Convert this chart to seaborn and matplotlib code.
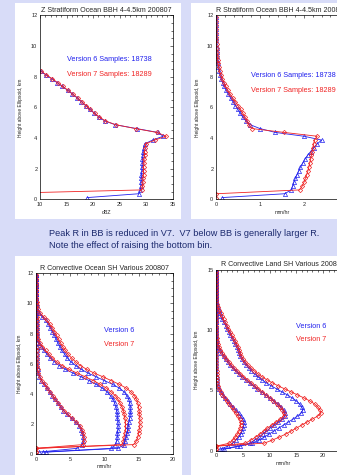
import numpy as np
import pandas as pd
import matplotlib
matplotlib.use("Agg")
import matplotlib.pyplot as plt
import seaborn as sns
from matplotlib.patches import Rectangle
from matplotlib.ticker import MultipleLocator, FuncFormatter

sns.set_style("white")
plt.rcParams["font.family"] = ["Liberation Sans", "DejaVu Sans"]

blue = "#2222ee"
red = "#f02424"
navy = "#1c2a6e"
lavender = "#d8dcf8"

# ---- Panel 1: Z stratiform ocean (dBZ) ----
h1 = [8.375, 8.125, 7.875, 7.625, 7.375, 7.125, 6.875, 6.625, 6.375, 6.125,
      5.875, 5.625, 5.375, 5.125, 4.875, 4.625, 4.375, 4.125, 3.875, 3.625,
      3.375, 3.125, 2.875, 2.625, 2.375, 2.125, 1.875, 1.625, 1.375, 1.125,
      0.875, 0.625, 0.375, 0.125]
z_v6 = [10.1, 11.1, 12.2, 13.2, 14.2, 15.2, 16.1, 17.0, 17.8, 18.6,
        19.4, 20.2, 21.1, 22.2, 24.2, 28.2, 32.2, 33.2, 31.2, 29.7,
        29.5, 29.4, 29.4, 29.3, 29.3, 29.2, 29.2, 29.1, 29.1, 29.0,
        29.0, 28.9, 28.6, 18.9]
z_v7 = [10.2, 11.2, 12.3, 13.3, 14.3, 15.3, 16.2, 17.1, 17.9, 18.7,
        19.5, 20.3, 21.2, 22.3, 24.3, 28.0, 32.0, 33.8, 31.6, 29.9,
        29.8, 29.7, 29.7, 29.6, 29.6, 29.5, 29.5, 29.5, 29.4, 29.4,
        29.3, 29.2, 0.0, 0.0]

# ---- Panel 2: R stratiform ocean (mm/hr) ----
h2 = [11.875, 11.625, 11.375, 11.125, 10.875, 10.625, 10.375, 10.125,
      9.875, 9.625, 9.375, 9.125, 8.875, 8.625, 8.375, 8.125,
      7.875, 7.625, 7.375, 7.125, 6.875, 6.625, 6.375, 6.125,
      5.875, 5.625, 5.375, 5.125, 4.875, 4.625, 4.375, 4.125,
      3.875, 3.625, 3.375, 3.125, 2.875, 2.625, 2.375, 2.125,
      1.875, 1.625, 1.375, 1.125, 0.875, 0.625, 0.375, 0.125]
rs_v6 = [0.0, 0.0, 0.0, 0.005, 0.005, 0.01, 0.01, 0.01,
         0.015, 0.02, 0.02, 0.03, 0.04, 0.05, 0.07, 0.09,
         0.12, 0.15, 0.19, 0.23, 0.28, 0.33, 0.39, 0.44,
         0.50, 0.55, 0.61, 0.68, 0.78, 1.00, 1.35, 2.00,
         2.40, 2.30, 2.22, 2.15, 2.08, 2.02, 1.97, 1.92,
         1.88, 1.84, 1.80, 1.77, 1.74, 1.71, 1.56, 0.14]
rs_v7 = [0.0, 0.0, 0.0, 0.005, 0.005, 0.01, 0.01, 0.015,
         0.02, 0.025, 0.03, 0.04, 0.05, 0.065, 0.08, 0.11,
         0.14, 0.18, 0.22, 0.27, 0.32, 0.38, 0.44, 0.50,
         0.56, 0.61, 0.66, 0.71, 0.74, 0.82, 1.55, 2.30,
         2.24, 2.22, 2.20, 2.18, 2.17, 2.15, 2.13, 2.11,
         2.09, 2.06, 2.03, 2.00, 1.96, 1.90, 0.0, 0.0]

# ---- Panel 3: R convective ocean, three SH classes ----
h3 = h2
ro_v6_a = [0.0, 0.0, 0.0, 0.0, 0.01, 0.01, 0.01, 0.02,
           0.02, 0.02, 0.03, 0.03, 0.04, 0.04, 0.05, 0.05,
           0.06, 0.07, 0.08, 0.09, 0.10, 0.11, 0.13, 0.15,
           0.18, 0.22, 0.30, 0.50, 0.80, 1.20, 1.60, 2.00,
           2.40, 2.80, 3.20, 3.60, 4.00, 4.60, 5.20, 5.80,
           6.30, 6.60, 6.80, 6.90, 6.90, 6.80, 6.00, 0.40]
ro_v7_a = [0.0, 0.0, 0.0, 0.01, 0.01, 0.01, 0.02, 0.02,
           0.02, 0.03, 0.03, 0.04, 0.04, 0.05, 0.05, 0.06,
           0.07, 0.08, 0.09, 0.10, 0.11, 0.13, 0.15, 0.17,
           0.20, 0.25, 0.35, 0.55, 0.85, 1.25, 1.65, 2.05,
           2.45, 2.85, 3.25, 3.65, 4.10, 4.70, 5.30, 5.90,
           6.40, 6.70, 6.90, 7.00, 7.00, 6.90, 0.0, 0.0]
ro_v6_b = [0.0, 0.0, 0.01, 0.01, 0.02, 0.02, 0.03, 0.03,
           0.04, 0.05, 0.06, 0.07, 0.08, 0.09, 0.10, 0.12,
           0.15, 0.20, 0.45, 0.80, 1.20, 1.60, 2.10, 2.70,
           3.40, 4.30, 5.40, 6.60, 7.80, 8.80, 9.70, 10.40,
           10.90, 11.30, 11.50, 11.70, 11.80, 11.90, 11.90, 12.00,
           12.00, 12.00, 11.90, 11.90, 11.80, 11.60, 11.00, 1.00]
ro_v7_b = [0.0, 0.0, 0.01, 0.01, 0.02, 0.02, 0.03, 0.04,
           0.05, 0.06, 0.07, 0.08, 0.09, 0.10, 0.12, 0.14,
           0.18, 0.25, 0.55, 0.95, 1.40, 1.90, 2.40, 3.00,
           3.80, 4.80, 6.00, 7.20, 8.40, 9.40, 10.30, 11.00,
           11.60, 12.00, 12.30, 12.60, 12.80, 12.90, 13.00, 13.10,
           13.10, 13.10, 13.00, 12.90, 12.80, 12.60, 0.0, 0.0]
ro_v6_c = [0.0, 0.01, 0.01, 0.02, 0.03, 0.04, 0.05, 0.07,
           0.10, 0.20, 0.45, 0.90, 1.40, 1.80, 2.10, 2.40,
           2.70, 2.95, 3.20, 3.50, 3.80, 4.20, 4.60, 5.10,
           5.80, 6.60, 7.60, 8.80, 10.00, 11.20, 12.20, 12.90,
           13.30, 13.60, 13.70, 13.80, 13.80, 13.80, 13.70, 13.60,
           13.50, 13.40, 13.30, 13.20, 13.00, 12.90, 12.00, 1.50]
ro_v7_c = [0.0, 0.01, 0.02, 0.03, 0.04, 0.05, 0.06, 0.09,
           0.13, 0.25, 0.55, 1.10, 1.60, 2.00, 2.40, 2.70,
           3.00, 3.30, 3.60, 3.90, 4.30, 4.70, 5.20, 5.80,
           6.50, 7.40, 8.50, 9.80, 11.00, 12.20, 13.20, 13.90,
           14.40, 14.70, 14.90, 15.00, 15.10, 15.10, 15.20, 15.20,
           15.20, 15.10, 15.00, 14.90, 14.70, 14.30, 0.0, 0.0]

# ---- Panel 4: R convective land, three SH classes ----
h4 = [14.875, 14.625, 14.375, 14.125, 13.875, 13.625, 13.375, 13.125,
      12.875, 12.625, 12.375, 12.125] + h2
rl_v6_a = [0.0, 0.0, 0.0, 0.0, 0.0, 0.0, 0.0, 0.01, 0.01, 0.01, 0.01, 0.02,
           0.02, 0.02, 0.02, 0.03, 0.03, 0.03, 0.04, 0.04, 0.04, 0.05, 0.05, 0.05,
           0.06, 0.06, 0.06, 0.07, 0.07, 0.07, 0.08, 0.08, 0.08, 0.09, 0.09, 0.10,
           0.10, 0.12, 0.30, 0.60, 0.90, 1.30, 1.70, 2.20, 2.70, 3.20, 3.70, 4.20,
           4.60, 5.00, 5.20, 5.20, 5.10, 4.90, 4.60, 4.20, 3.70, 3.10, 2.20, 0.80]
rl_v7_a = [0.0, 0.0, 0.0, 0.0, 0.0, 0.0, 0.01, 0.01, 0.01, 0.01, 0.02, 0.02,
           0.02, 0.03, 0.03, 0.03, 0.04, 0.04, 0.04, 0.05, 0.05, 0.05, 0.06, 0.06,
           0.06, 0.07, 0.07, 0.07, 0.08, 0.08, 0.08, 0.09, 0.09, 0.10, 0.10, 0.11,
           0.12, 0.14, 0.30, 0.60, 0.90, 1.20, 1.60, 2.00, 2.40, 2.90, 3.30, 3.70,
           4.10, 4.40, 4.60, 4.60, 4.50, 4.30, 4.00, 3.60, 3.10, 2.50, 0.0, 0.0]
rl_v6_b = [0.0, 0.0, 0.0, 0.0, 0.01, 0.01, 0.01, 0.02, 0.02, 0.02, 0.03, 0.03,
           0.03, 0.04, 0.04, 0.05, 0.05, 0.06, 0.06, 0.07, 0.07, 0.08, 0.09, 0.10,
           0.25, 0.45, 0.70, 1.00, 1.40, 1.80, 2.20, 2.60, 3.10, 3.70, 4.30, 4.90,
           5.60, 6.30, 7.00, 7.70, 8.50, 9.30, 10.10, 10.80, 11.50, 12.10, 12.60, 12.90,
           12.90, 12.40, 11.60, 10.80, 10.10, 9.40, 8.70, 8.00, 7.20, 6.30, 4.00, 1.20]
rl_v7_b = [0.0, 0.0, 0.0, 0.01, 0.01, 0.01, 0.02, 0.02, 0.02, 0.03, 0.03, 0.04,
           0.04, 0.05, 0.05, 0.06, 0.06, 0.07, 0.07, 0.08, 0.08, 0.09, 0.10, 0.15,
           0.30, 0.55, 0.80, 1.10, 1.50, 1.90, 2.40, 2.80, 3.30, 3.90, 4.50, 5.10,
           5.80, 6.50, 7.20, 7.90, 8.60, 9.30, 10.00, 10.70, 11.30, 11.90, 12.40, 12.70,
           12.60, 12.00, 11.20, 10.40, 9.60, 8.90, 8.20, 7.40, 6.50, 5.50, 0.0, 0.0]
rl_v6_c = [0.0, 0.0, 0.01, 0.01, 0.01, 0.02, 0.02, 0.03, 0.03, 0.04, 0.05, 0.10,
           0.30, 0.50, 0.70, 0.90, 1.20, 1.50, 1.80, 2.10, 2.40, 2.70, 3.00, 3.30,
           3.60, 3.90, 4.10, 4.30, 4.50, 4.80, 5.20, 5.60, 6.10, 6.60, 7.20, 7.80,
           8.60, 9.40, 10.30, 11.30, 12.30, 13.30, 14.20, 15.00, 15.60, 16.00, 16.20, 15.90,
           15.20, 14.40, 13.50, 12.60, 11.70, 10.80, 9.90, 9.00, 8.00, 6.80, 4.50, 1.50]
rl_v7_c = [0.0, 0.0, 0.01, 0.01, 0.02, 0.02, 0.03, 0.03, 0.04, 0.05, 0.07, 0.15,
           0.40, 0.60, 0.85, 1.10, 1.40, 1.70, 2.00, 2.30, 2.60, 2.90, 3.20, 3.50,
           3.80, 4.10, 4.30, 4.50, 4.70, 5.00, 5.40, 5.90, 6.50, 7.10, 7.80, 8.60,
           9.50, 10.50, 11.60, 12.80, 14.00, 15.20, 16.40, 17.50, 18.40, 19.00, 19.40, 19.60,
           19.00, 18.00, 17.00, 16.00, 15.00, 14.00, 13.00, 11.80, 10.50, 9.00, 0.0, 0.0]

titles = ["Z Stratiform Ocean BBH 4-4.5km 200807",
          "R Stratiform Ocean BBH 4-4.5km 200807",
          "R Convective Ocean SH Various 200807",
          "R Convective Land SH Various 200807"]
note_lines = ["Peak R in BB is reduced in V7.  V7 below BB is generally larger R.",
              "Note the effect of raising the bottom bin."]

W, H = 337, 475
fig = plt.figure(figsize=(W / 100, H / 100), dpi=100, facecolor=lavender)


def add_box(x0, y0, x1, y1):
    fig.patches.append(Rectangle((x0 / W, 1 - y1 / H), (x1 - x0) / W, (y1 - y0) / H,
                                 transform=fig.transFigure, facecolor="white",
                                 edgecolor="none", zorder=-1))


def add_panel(x0, y0, x1, y1):
    return fig.add_axes([x0 / W, 1 - y1 / H, (x1 - x0) / W, (y1 - y0) / H])


def draw_profile(ax, heights, values, version):
    df = pd.DataFrame({"height": heights, "value": values}).dropna()
    if version == 6:
        sns.lineplot(data=df, x="value", y="height", sort=False, estimator=None, ax=ax,
                     color=blue, linewidth=0.6, marker="^", markersize=3.0,
                     markerfacecolor="none", markeredgecolor=blue, markeredgewidth=0.5)
    else:
        sns.lineplot(data=df, x="value", y="height", sort=False, estimator=None, ax=ax,
                     color=red, linewidth=0.6, marker="D", markersize=2.2,
                     markerfacecolor="none", markeredgecolor=red, markeredgewidth=0.5)


def style_axes(ax, title, xlim, ylim, xmaj, xmin, ymaj, ymin, xlabel, ylab_x, xlab_max):
    ax.set_xlim(xlim)
    ax.set_ylim(ylim)
    ax.xaxis.set_major_locator(MultipleLocator(xmaj))
    ax.xaxis.set_minor_locator(MultipleLocator(xmin))
    ax.yaxis.set_major_locator(MultipleLocator(ymaj))
    ax.yaxis.set_minor_locator(MultipleLocator(ymin))
    # labels only for ticks that stay inside the page
    ax.xaxis.set_major_formatter(FuncFormatter(lambda v, p: "%g" % v if v <= xlab_max else ""))
    ax.tick_params(which="both", direction="in", top=True, right=True,
                   width=0.4, color="black", labelsize=4, pad=2)
    ax.tick_params(which="major", length=2.5)
    ax.tick_params(which="minor", length=1.2)
    for s in ax.spines.values():
        s.set_color("black")
        s.set_linewidth(0.5)
    ax.set_title(title, fontsize=5.1, pad=2.5)
    ax.set_xlabel(xlabel, fontsize=3.8)
    ax.set_ylabel("Height above Ellipsoid, km", fontsize=3.5)
    ax.xaxis.set_label_coords(0.5, -0.055)
    ax.yaxis.set_label_coords(ylab_x, 0.5)


add_box(15, 3, 181, 219)
add_box(191, 3, 337, 219)
add_box(15, 256, 182, 475)
add_box(191, 256, 337, 475)

# top left
ax1 = add_panel(40, 15.5, 172.7, 199.5)
draw_profile(ax1, h1, z_v6, 6)
draw_profile(ax1, h1, z_v7, 7)
style_axes(ax1, titles[0], (10, 35), (0, 12), 5, 1, 2, 0.5, "dBZ", -0.125, 35)
ax1.text(15.1, 9.15, "Version 6 Samples: 18738", color=blue, fontsize=5.2, va="center")
ax1.text(15.1, 8.18, "Version 7 Samples: 18289", color=red, fontsize=5.2, va="center")

# top right
ax2 = add_panel(216, 15.5, 348, 199.5)
draw_profile(ax2, h2, rs_v6, 6)
draw_profile(ax2, h2, rs_v7, 7)
style_axes(ax2, titles[1], (0, 3), (0, 12), 1, 0.2, 2, 0.5, "mm/hr", -0.125, 2)
ax2.text(0.8, 8.1, "Version 6 Samples: 18738", color=blue, fontsize=5.2, va="center")
ax2.text(0.8, 7.1, "Version 7 Samples: 18289", color=red, fontsize=5.2, va="center")

# bottom left
ax3 = add_panel(36, 273.3, 172.7, 454)
for v6, v7 in [(ro_v6_a, ro_v7_a), (ro_v6_b, ro_v7_b), (ro_v6_c, ro_v7_c)]:
    draw_profile(ax3, h3, v6, 6)
    draw_profile(ax3, h3, v7, 7)
style_axes(ax3, titles[2], (0, 20), (0, 12), 5, 1, 2, 0.5, "mm/hr", -0.105, 20)
ax3.text(10.0, 8.23, "Version 6", color=blue, fontsize=5.2, va="center")
ax3.text(10.0, 7.24, "Version 7", color=red, fontsize=5.2, va="center")

# bottom right
ax4 = add_panel(216, 269.7, 350, 450.7)
for v6, v7 in [(rl_v6_a, rl_v7_a), (rl_v6_b, rl_v7_b), (rl_v6_c, rl_v7_c)]:
    draw_profile(ax4, h4, v6, 6)
    draw_profile(ax4, h4, v7, 7)
style_axes(ax4, titles[3], (0, 25), (0, 15), 5, 1, 5, 1, "mm/hr", -0.125, 20)
ax4.text(14.9, 10.27, "Version 6", color=blue, fontsize=5.2, va="center")
ax4.text(14.9, 9.25, "Version 7", color=red, fontsize=5.2, va="center")

fig.text(49 / W, 1 - 234 / H, note_lines[0], color=navy, fontsize=6.6, va="center")
fig.text(49 / W, 1 - 245.5 / H, note_lines[1], color=navy, fontsize=6.6, va="center")

fig.savefig("out.png", dpi=100, facecolor=fig.get_facecolor())
